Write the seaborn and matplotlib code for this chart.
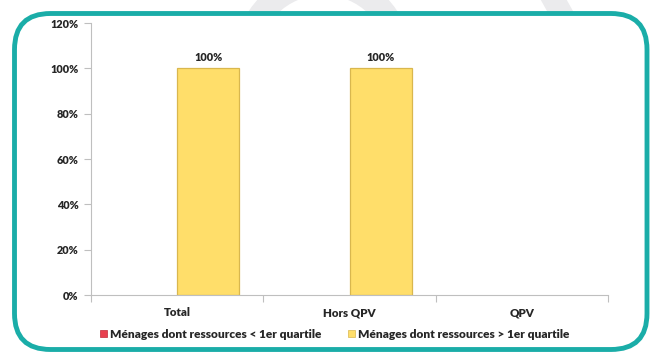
import matplotlib
matplotlib.use("Agg")
import matplotlib.pyplot as plt
from matplotlib.patches import FancyBboxPatch, Annulus, Polygon, Patch
from matplotlib.ticker import PercentFormatter, FixedLocator, NullFormatter
import numpy as np
import pandas as pd
import seaborn as sns

# --- data -------------------------------------------------------------
categories = ["Total", "Hors QPV", "QPV"]
series = ["Ménages dont ressources < 1er quartile",
          "Ménages dont ressources > 1er quartile"]
below_q1 = [0.0, 0.0, 0.0]
above_q1 = [1.0, 1.0, 0.0]
y_ticks = [0.0, 0.2, 0.4, 0.6, 0.8, 1.0, 1.2]

colors = ["#E8404F", "#FFDE6A"]
edge_yellow = "#D9B74E"
frame_color = "#1AADA8"
axis_gray = "#BFBFBF"
text_color = "#262626"
weight = "heavy"

df = pd.DataFrame({
    "categorie": categories * 2,
    "serie": [series[0]] * 3 + [series[1]] * 3,
    "valeur": below_q1 + above_q1,
})

sns.set_style("white")
plt.rcParams["font.family"] = ["Lato", "DejaVu Sans"]
plt.rcParams["font.weight"] = weight

W, H = 652, 360
fig = plt.figure(figsize=(W / 100, H / 100), dpi=100)
fig.patch.set_facecolor("white")

# background layer: watermark shapes and rounded frame, in pixel units
bg = fig.add_axes([0, 0, 1, 1], zorder=0)
bg.set_xlim(0, W)
bg.set_ylim(H, 0)
bg.axis("off")
wm = "#EBEBED"
bg.add_patch(Annulus((323, 60), r=89, width=24, color=wm, lw=0))
bg.add_patch(Polygon([(538, -5), (564, -5), (578, 20), (552, 20)],
                     closed=True, color=wm, lw=0))
bg.add_patch(FancyBboxPatch((14.5, 13.5), 632.5, 336,
                            boxstyle="round,pad=0,rounding_size=36",
                            lw=3.5, edgecolor=frame_color, facecolor="white"))

# chart
ax = fig.add_axes([91 / W, 1 - 295 / H, (608 - 91) / W, (295 - 23) / H], zorder=1)
ax.patch.set_alpha(0)
sns.barplot(data=df, x="categorie", y="valeur", hue="serie", order=categories,
            hue_order=series, palette=colors, width=0.72, saturation=1,
            legend=False, ax=ax)

for i, cont in enumerate(ax.containers):
    for bar in cont:
        if bar.get_height() > 0 and i == 1:
            bar.set_edgecolor(edge_yellow)
            bar.set_linewidth(0.9)
        else:
            bar.set_linewidth(0)
    labels = [f"{v:.0%}" if v > 0 else "" for v in cont.datavalues]
    ax.bar_label(cont, labels=labels, padding=4, fontsize=7.8,
                 fontweight=weight, color=text_color)

ax.set_ylim(0, 1.2)
ax.set_xlim(-0.5, 2.5)
ax.yaxis.set_major_locator(FixedLocator(y_ticks))
ax.yaxis.set_major_formatter(PercentFormatter(1.0, decimals=0))

# category boundaries carry the tick marks, names sit at the centres
ax.xaxis.set_major_locator(FixedLocator([-0.5, 0.5, 1.5, 2.5]))
ax.xaxis.set_major_formatter(NullFormatter())
ax.set_xticks(range(len(categories)), categories, minor=True)
ax.tick_params(axis="x", which="major", length=5, width=0.8, color=axis_gray,
               direction="out", bottom=True)
ax.tick_params(axis="x", which="minor", length=0, pad=9, labelsize=8.3,
               labelcolor=text_color)
ax.tick_params(axis="y", length=5, width=0.8, color=axis_gray, direction="out",
               left=True, pad=4, labelsize=7.8, labelcolor=text_color)
for lab in ax.get_xticklabels(minor=True) + ax.get_yticklabels():
    lab.set_fontweight(weight)

ax.set_xlabel("")
ax.set_ylabel("")
for side in ["top", "right"]:
    ax.spines[side].set_visible(False)
for side in ["left", "bottom"]:
    ax.spines[side].set_color(axis_gray)
    ax.spines[side].set_linewidth(0.8)

handles = [Patch(facecolor=colors[0], edgecolor="#C02A38", lw=0.5),
           Patch(facecolor=colors[1], edgecolor=edge_yellow, lw=0.5)]
leg = fig.legend(handles, series, loc="center", ncol=2,
                 bbox_to_anchor=(335 / W, 1 - 334 / H), frameon=False,
                 handlelength=0.55, handleheight=0.55, handletextpad=0.3,
                 columnspacing=2.2, prop={"size": 8.6, "weight": weight})
for t in leg.get_texts():
    t.set_color(text_color)

fig.savefig("out.png", dpi=100, facecolor="white")
